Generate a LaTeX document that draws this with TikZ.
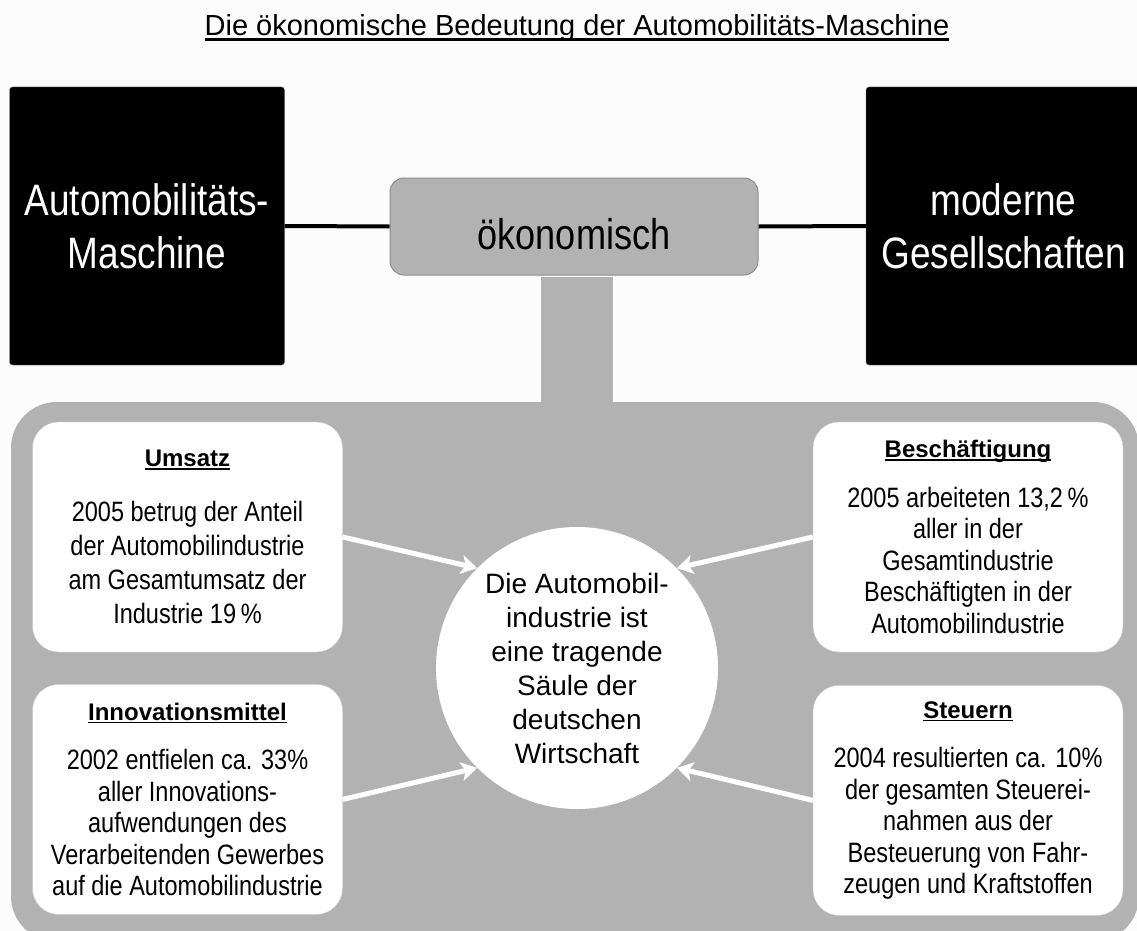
\documentclass[tikz,border=0pt]{standalone}
\usepackage{fontspec}
\setmainfont{Liberation Sans}
\newfontfamily\narrowfont{Liberation Sans}[FakeStretch=0.84]
\usetikzlibrary{calc,positioning,arrows.meta}

\definecolor{pagebg}{HTML}{FCFCFC}
\definecolor{panelgray}{HTML}{B2B2B2}

% underlined text: depth, thickness, text
\newcommand{\ulined}[3]{\leavevmode\setbox0\hbox{#3}\rlap{\rule[-#1]{\wd0}{#2}}\box0}
\newcommand{\hdr}[1]{{\normalfont\bfseries\fontsize{24}{28}\selectfont\ulined{3pt}{1.5pt}{#1}}}

\begin{document}
\begin{tikzpicture}[x=1pt,y=-1pt]
	\tikzstyle{endpoint}=[fill=black, draw=black!55, rounded corners=3pt, text=white, align=center, minimum width=275, minimum height=278, font=\narrowfont\fontsize{44}{53}\selectfont]
	\tikzstyle{theme}=[fill=panelgray, draw=black!45, line width=1pt, rounded corners=14pt, minimum width=368, minimum height=97, text height=46pt, text depth=0pt, font=\narrowfont\fontsize{43}{52}\selectfont]
	\tikzstyle{fact}=[fill=white, draw=black!20, rounded corners=26pt, align=center, minimum width=310, minimum height=230, inner sep=0pt, font=\narrowfont\fontsize{28}{31.5}\selectfont]
	\tikzstyle{hub}=[circle, fill=white, inner sep=0pt, minimum size=282, align=center, font=\fontsize{28}{34}\selectfont]
	\tikzstyle{link}=[draw=black, line width=4pt]
	\tikzstyle{flow}=[-{Stealth[length=16pt,width=19pt,inset=4pt]}, draw=white, line width=5pt]

	\useasboundingbox (0,0) rectangle (1137,931);
	\clip (0,0) rectangle (1137,931);
	\fill[pagebg] (0,0) rectangle (1137,931);

	\node (title) [anchor=base] at (577,36) {\fontsize{29}{35}\selectfont\ulined{5pt}{2.5pt}{Die ökonomische Bedeutung der Automobilitäts-Maschine}};

	% top row
	\node (machine) [endpoint] at (147,226) {Automobilitäts-\\Maschine};
	\node (oeko) [theme] at (574,226.5) {ökonomisch};
	\node (society) [endpoint] at (1003.5,226) {moderne\\Gesellschaften};

	\draw[link] (machine.east) -- (oeko.west);
	\draw[link] (oeko.east) -- (society.west);

	% lower panel
	\node (panel) [fill=panelgray, rounded corners=46pt, minimum width=1128, minimum height=540, inner sep=0pt] at (575,672) {};
	\node (pillar) [hub] at (577,668) {Die Automobil-\\industrie ist\\eine tragende\\Säule der\\deutschen\\Wirtschaft};
	\fill[panelgray] ($(pillar |- oeko.south)+(-36,1)$) rectangle ($(pillar |- panel.north)+(36,2)$);

	\node (umsatz) [fact, font=\narrowfont\fontsize{28}{34}\selectfont] at (187.5,537) {\hdr{Umsatz}\\[21pt]2005 betrug der Anteil\\der Automobilindustrie\\am Gesamtumsatz der\\Industrie 19\,\%};
	\node (innov) [fact, below=32pt of umsatz] {\hdr{Innovationsmittel}\\[18pt]2002 entfielen ca. 33\%\\aller Innovations-\\aufwendungen des\\Verarbeitenden Gewerbes\\auf die Automobilindustrie};
	\node (jobs) [fact] at (968,537) {\hdr{Beschäftigung}\\[18pt]2005 arbeiteten 13,2\,\%\\aller in der\\Gesamtindustrie\\Beschäftigten in der\\Automobilindustrie};
	\node (taxes) [fact, below=33pt of jobs] {\hdr{Steuern}\\[18pt]2004 resultierten ca. 10\%\\der gesamten Steuerei-\\nahmen aus der\\Besteuerung von Fahr-\\zeugen und Kraftstoffen};

	\draw[flow] (umsatz.east) -- (pillar.135);
	\draw[flow] (innov.east) -- (pillar.225);
	\draw[flow] (jobs.west) -- (pillar.45);
	\draw[flow] (taxes.west) -- (pillar.-45);
\end{tikzpicture}
\end{document}
